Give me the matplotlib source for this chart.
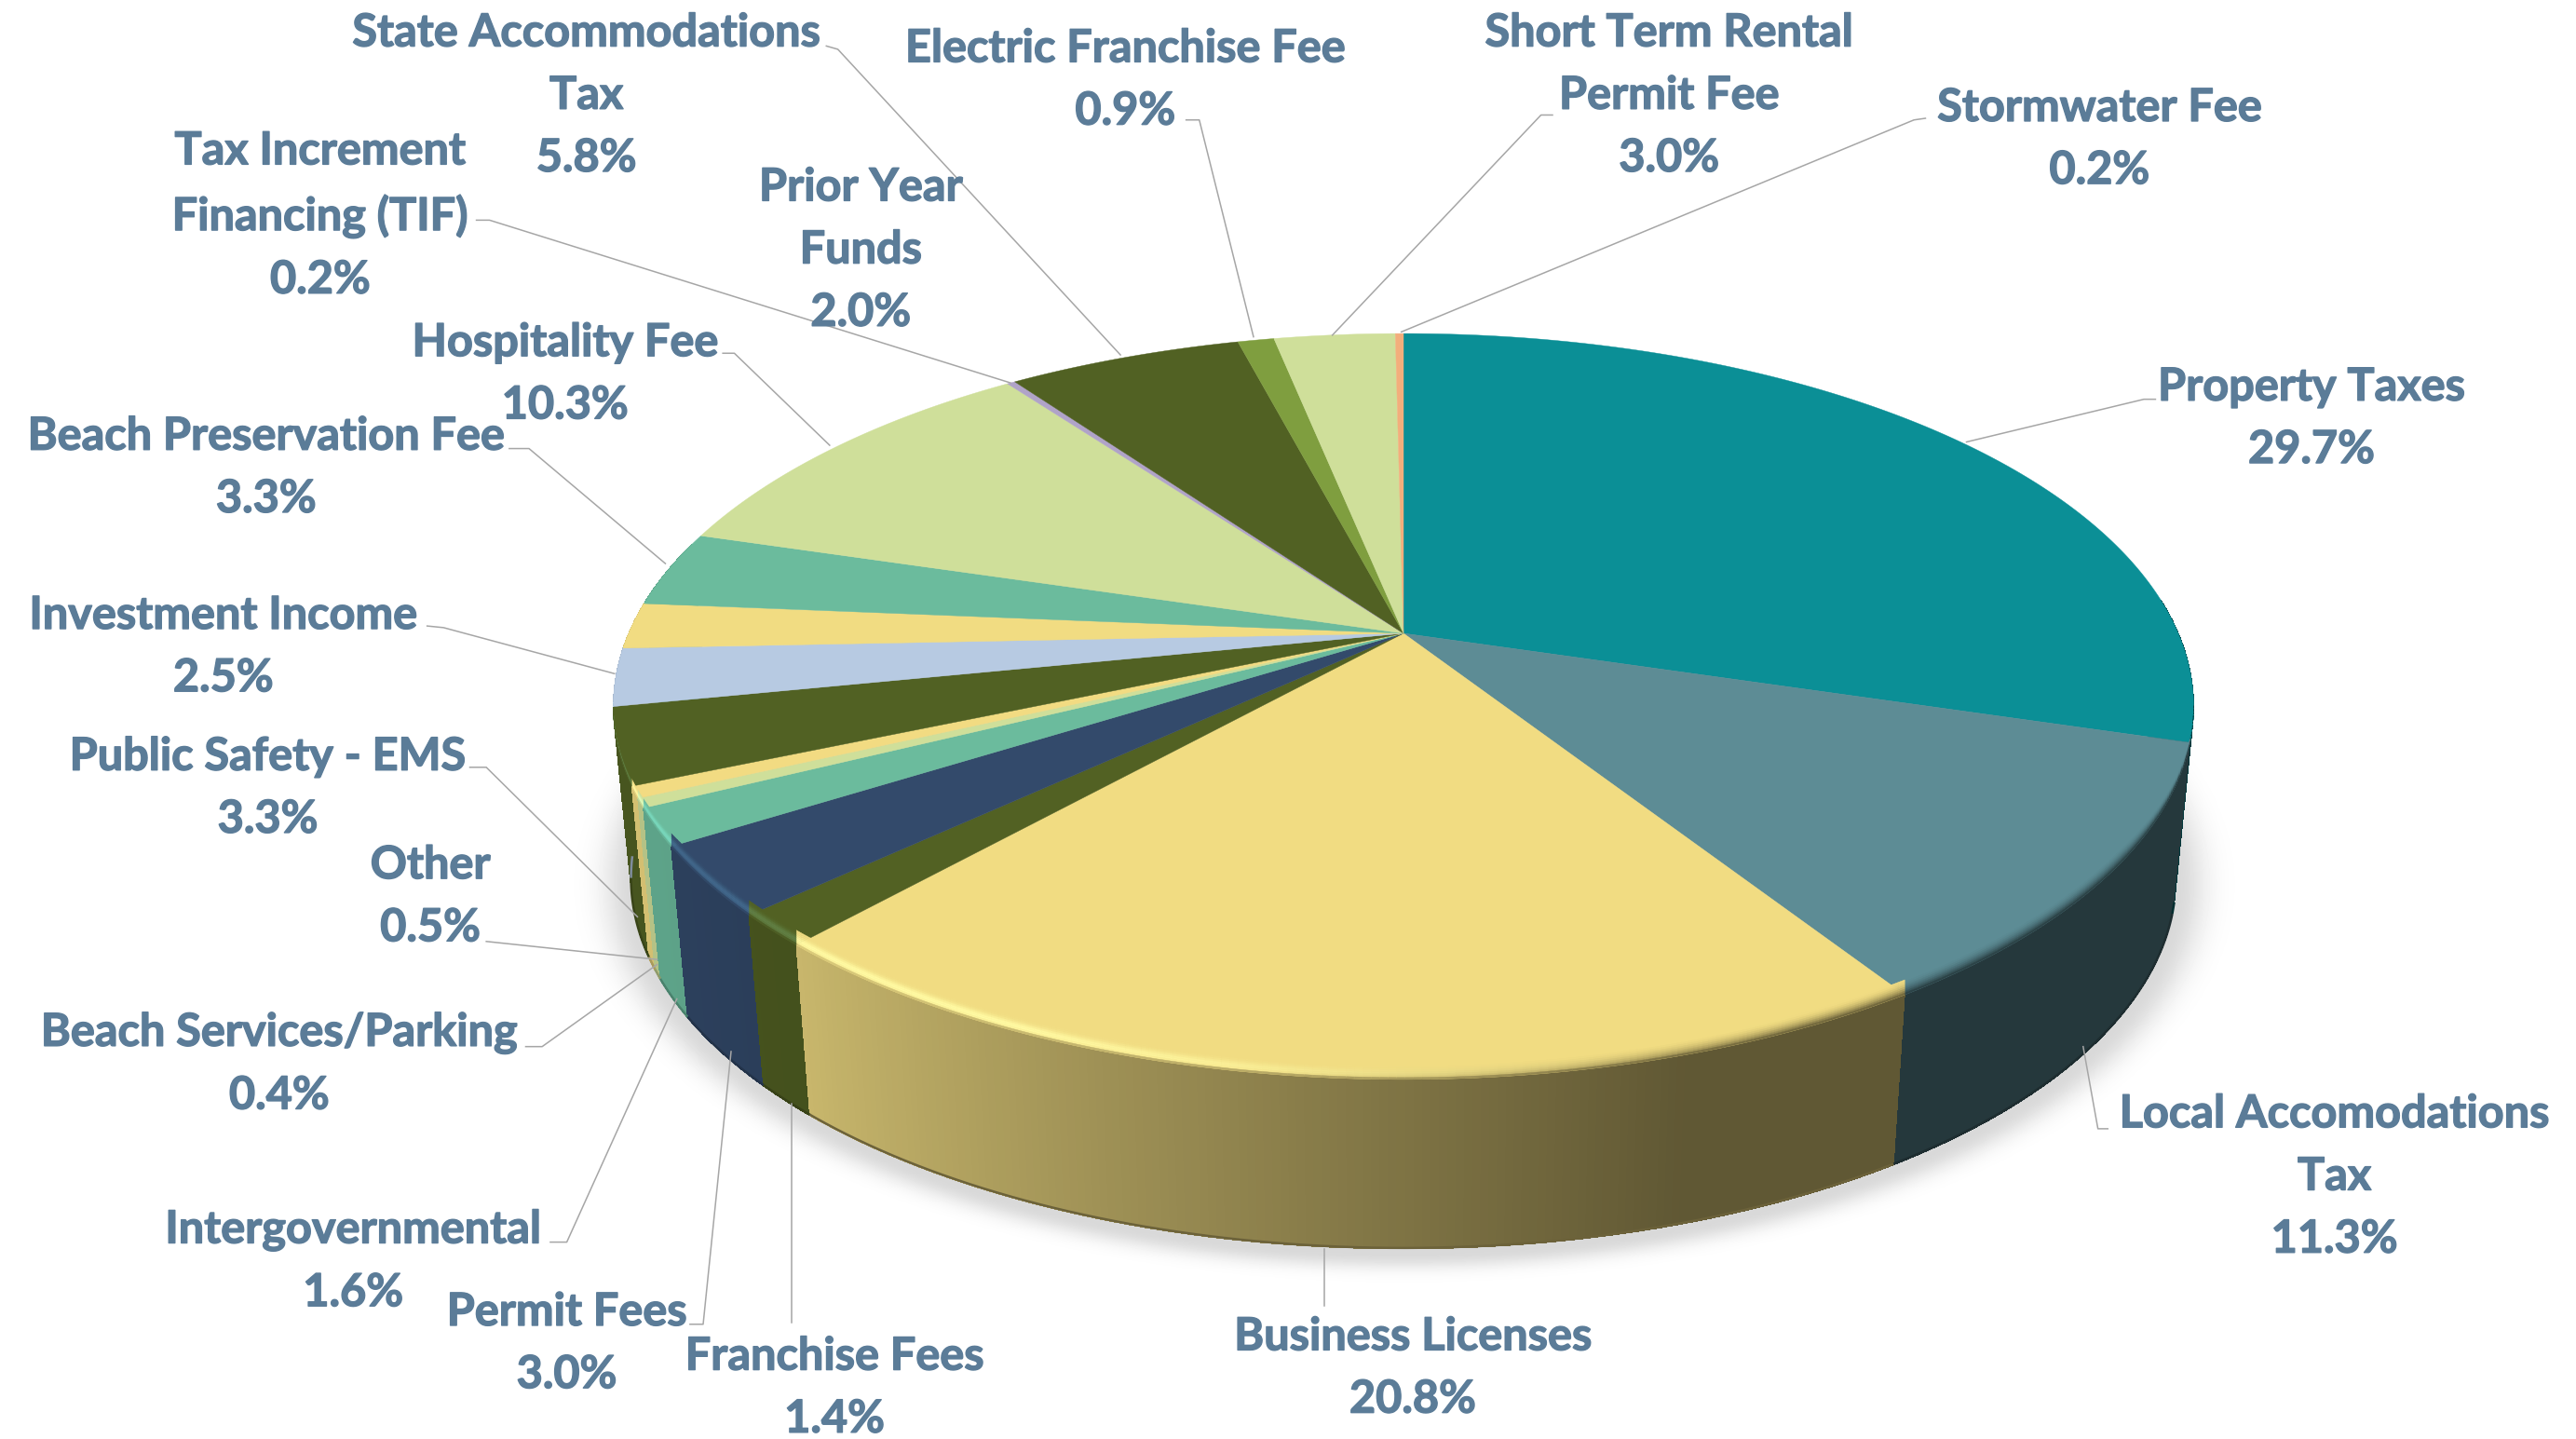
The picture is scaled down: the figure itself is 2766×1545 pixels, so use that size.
import numpy as np
import matplotlib
matplotlib.use("Agg")
import matplotlib.pyplot as plt
import matplotlib.patheffects as pe
from matplotlib.collections import PolyCollection
from matplotlib.colors import to_rgb

# --- DATA ---
labels = ["Property Taxes", "Local Accomodations\nTax", "Business Licenses", "Franchise Fees",
          "Permit Fees", "Intergovernmental", "Beach Services/Parking", "Other",
          "Public Safety - EMS", "Investment Income", "Prior Year\nFunds", "Beach Preservation Fee",
          "Hospitality Fee", "Tax Increment\nFinancing (TIF)", "State Accommodations\nTax",
          "Electric Franchise Fee", "Short Term Rental\nPermit Fee", "Stormwater Fee"]
values = [29.7, 11.3, 20.8, 1.4, 3.0, 1.6, 0.4, 0.5, 3.3, 2.5, 2.0, 3.3, 10.3, 0.2, 5.8, 0.9, 3.0, 0.2]
colors = ["#0B8F96", "#5D8C95", "#F1DC82", "#526123", "#334A6B", "#6BBB9D", "#CFDF9A", "#F2DB82",
          "#516123", "#B7CAE2", "#F1DC82", "#6BBB9D", "#CFDF9A", "#B0A3C8", "#516123", "#7F9E3F",
          "#CFDF9A", "#F3AE7C"]

# label centres and leader lines, in pixels of the 1568 wide view
label_xy = [(1407, 254.5), (1421, 716), (860, 832.5), (508, 844.5), (345, 817.5), (215, 767.5), (170, 647.5),
            (262, 545.5), (163, 479.5), (136, 393.5), (524, 152), (162, 284.5), (344, 227.5), (195, 131),
            (357, 58), (685, 48.5), (1016, 58), (1278, 84.5)]
leaders = [[(1312, 243), (1305, 243), (1197, 269)], [(1283, 687), (1277, 687), (1268, 637)],
           [(806, 795), (806, 760)], [(482, 805), (482, 672)],
           [(420, 806), (428, 806), (445, 640)], [(335, 756), (345, 756), (412, 608)],
           [(320, 637), (330, 637), (400, 587)], [(296, 573), (400, 584)],
           [(286, 467), (296, 467), (388, 558)], [(260, 381), (270, 382), (374, 410)],
           [], [(310, 273), (322, 273), (405, 343)], [(440, 215), (447, 215), (505, 271)],
           [(290, 134), (298, 134), (615, 233)], [(503, 28), (510, 30), (682, 216)],
           [(722, 73), (730, 73), (763, 205)], [(945, 70), (938, 70), (811, 204)],
           [(1172, 72), (1165, 73), (853, 202)]]

# --- GEOMETRY (pixels of the full picture) ---
W, H = 2766, 1545
SCALE = W / 1568
CX, APEX_Y = 1507, 680
K, A, B = 0.196, 385, 832
TOP_EY, TOP_RX, TOP_RY = 759, 848, 400
BOT_EY, BOT_RX, BOT_RY = 944, 829, 397
TEXT_COLOR = "#5B7C98"


def top_pt(theta):
    xx = np.sin(theta)
    yy = -np.cos(theta)
    w = 1 - K * yy
    return CX + B * xx / w, APEX_Y + A * yy / w


def bottom_pt(theta):
    x, y = top_pt(theta)
    return CX + (x - CX) * BOT_RX / TOP_RX, BOT_EY + (y - TOP_EY) * BOT_RY / TOP_RY


def wall_shade(deg):
    return np.interp(deg, [90, 163, 222, 240, 280], [0.40, 0.40, 0.83, 0.87, 0.88])


def rim_depth(deg):
    # the bevel closes up where the outline of the top face turns vertical
    return np.interp(deg, [101, 125, 235, 259], [0, 16, 16, 0])


fig = plt.figure(figsize=(W / 100, H / 100), dpi=100)
ax = fig.add_axes([0, 0, 1, 1])
ax.set_xlim(0, W)
ax.set_ylim(H, 0)
ax.axis("off")

# soft shadow round the foot of the pie
gx, gy = np.meshgrid(np.arange(0, W, 4), np.arange(0, H, 4))
dist = (np.sqrt(((gx - CX) / BOT_RX) ** 2 + ((gy - BOT_EY - 6) / BOT_RY) ** 2) - 1) * 600
shade = 1 - 0.15 * np.exp(-(np.clip(dist, 0, None) / 24) ** 2)
ax.imshow(shade, cmap="gray", vmin=0, vmax=1, extent=[0, W, H, 0], aspect="auto", zorder=0,
          interpolation="bilinear")
ax.set_xlim(0, W)
ax.set_ylim(H, 0)

bounds = np.cumsum([0] + values) / sum(values) * 2 * np.pi

# side wall, painted from the back to the front
quads = []
for i, col in enumerate(colors):
    base = np.array(to_rgb(col))
    n = max(2, int((bounds[i + 1] - bounds[i]) / np.radians(0.5)))
    th = np.linspace(bounds[i], bounds[i + 1], n + 1)
    for a0, a1 in zip(th[:-1], th[1:]):
        if np.degrees(a1) < 85 or np.degrees(a0) > 285:
            continue
        x0, y0 = top_pt(a0)
        x1, y1 = top_pt(a1)
        x2, y2 = bottom_pt(a1)
        x3, y3 = bottom_pt(a0)
        f = wall_shade(np.degrees((a0 + a1) / 2))
        quads.append((y0 + y1, [(x0, y0), (x1, y1), (x2, y2), (x3, y3)], base * f))
quads.sort(key=lambda q: q[0])
ax.add_collection(PolyCollection([q[1] for q in quads], facecolors=[q[2] for q in quads],
                                 edgecolors="none", antialiased=False, zorder=2))

# thin darker foot along the bottom edge
for i, col in enumerate(colors):
    base = np.array(to_rgb(col))
    lo, hi = np.degrees(bounds[i]), np.degrees(bounds[i + 1])
    lo, hi = max(lo, 105), min(hi, 262)
    if hi <= lo:
        continue
    th = np.radians(np.linspace(lo, hi, max(2, int(hi - lo) * 2)))
    x, y = bottom_pt(th)
    mid = wall_shade((lo + hi) / 2)
    ax.plot(x, y - 1, color=base * mid * 0.8, lw=1.8, solid_capstyle="butt", zorder=2.5)

# top face
for i, col in enumerate(colors):
    n = max(2, int((bounds[i + 1] - bounds[i]) / np.radians(0.5)))
    th = np.linspace(bounds[i], bounds[i + 1], n + 1)
    x, y = top_pt(th)
    ax.fill(np.r_[CX, x], np.r_[APEX_Y, y], facecolor=col, edgecolor=col, linewidth=0.3, zorder=3)

# bevel along the front rim
layers = np.linspace(0, 1, 9)
polys, fills = [], []
for i, col in enumerate(colors):
    base = np.array(to_rgb(col))
    n = max(2, int((bounds[i + 1] - bounds[i]) / np.radians(0.5)))
    th = np.linspace(bounds[i], bounds[i + 1], n + 1)
    for a0, a1 in zip(th[:-1], th[1:]):
        deg = np.degrees((a0 + a1) / 2)
        if deg < 101 or deg > 259:
            continue
        x0, y0 = top_pt(a0)
        x1, y1 = top_pt(a1)
        h0, h1 = rim_depth(np.degrees(a0)), rim_depth(np.degrees(a1))
        wall = base * wall_shade(deg)
        glow = np.interp(deg, [165, 205, 270], [0, 1, 1])
        dark = np.interp(deg, [155, 190], [1, 0])
        for t0, t1 in zip(layers[:-1], layers[1:]):
            t = (t0 + t1) / 2
            c = base + glow * np.array([0.06, 0.12, 0.13]) * np.exp(-((t - 0.65) / 0.3) ** 2)
            c = c + (wall - c) * (dark * t ** 2 + (1 - dark) * np.clip((t - 0.85) / 0.15, 0, 1))
            polys.append([(x0, y0 - (1 - t0) * h0), (x1, y1 - (1 - t0) * h1),
                          (x1, y1 - (1 - t1) * h1), (x0, y0 - (1 - t1) * h0)])
            fills.append(np.clip(c, 0, 1))
ax.add_collection(PolyCollection(polys, facecolors=fills, edgecolors=fills, linewidths=0.3, zorder=4))

# leader lines
for pts in leaders:
    if pts:
        ax.plot([p[0] * SCALE for p in pts], [p[1] * SCALE for p in pts], color="#A6A6A6", lw=1.1, zorder=5)

# labels
for lab, val, (lx, ly) in zip(labels, values, label_xy):
    t = ax.text(lx * SCALE, ly * SCALE, f"{lab}\n{val:.1f}%", ha="center", va="center", color=TEXT_COLOR,
                fontsize=35, fontweight="bold", family="Lato", linespacing=1.6, zorder=6)
    t.set_path_effects([pe.withStroke(linewidth=1.0, foreground=TEXT_COLOR)])

fig.savefig("out.png", dpi=100)
